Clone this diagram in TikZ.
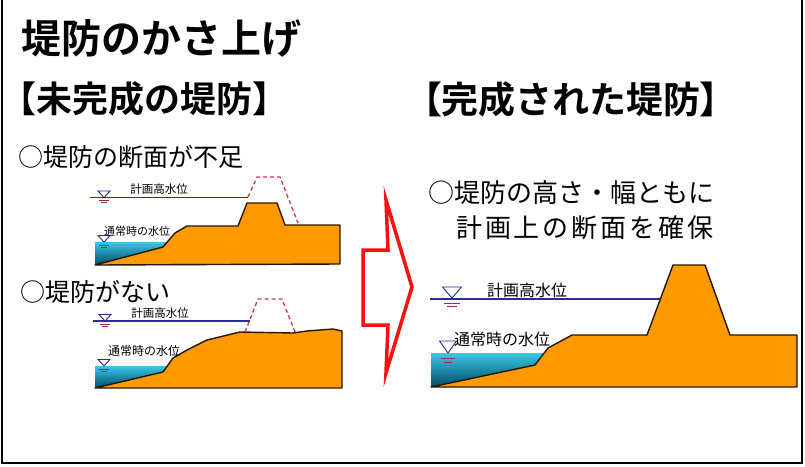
\documentclass[tikz,border=0pt]{standalone}
\usepackage{fontspec}
\setmainfont{Noto Sans CJK JP}
\newfontfamily\jpbold{Noto Sans CJK JP Bold}
\newfontfamily\jpboldp[RawFeature=+palt]{Noto Sans CJK JP Bold}
\definecolor{orng}{HTML}{FF9900}
\definecolor{navy}{HTML}{2B2B99}
\definecolor{dred}{HTML}{C8384F}
\definecolor{wtop}{HTML}{3CC8E6}
\definecolor{wbot}{HTML}{004A66}
\definecolor{arrred}{HTML}{FF1010}
\tikzset{
  fsz/.style={font=\fontsize{#1}{#1}\selectfont},
  txt/.style={inner sep=0pt, text=black},
  bank/.style={fill=orng, draw=black!85!orng, line width=1.4pt, line join=round},
  water/.style={top color=wtop, bottom color=wbot},
  hwl/.style={navy, line width=1.3pt},
  plan/.style={dred, line width=1.3pt, dash pattern=on 4pt off 3pt},
  wsym/.pic={
    \draw[navy, line width=0.9pt] (-1,-1) -- (1,-1) -- (0,0) -- cycle;
    \draw[dred!80!black, line width=0.7pt] (-0.8,0.45) -- (0.8,0.45) (-0.5,0.8) -- (0.5,0.8);
  }
}
\begin{document}
\begin{tikzpicture}[x=1pt,y=-1pt]
\useasboundingbox (0,0) rectangle (805,466);
\fill[white] (0,0) rectangle (805,466);

% ---- titles
\node[txt, fsz=40, anchor=west] (title) at (21,38) {\jpbold 堤防のかさ上げ};
\node[txt, fsz=36, anchor=west] (lab1) at (0.5,99) {\jpbold 【未完成の堤防】};
\node[txt, fsz=37, anchor=west] (lab2) at (423,99) {\jpboldp 【\jpbold 完成された堤防\jpboldp 】};

% ---- left diagram 1
\node[txt, fsz=25, anchor=west] (h1) at (18,157) {○堤防の断面が不足};
\fill[water] (95,242) -- (167,242) -- (163,247) -- (95,265) -- cycle;
\path[bank] (95,265) -- (163,247) -- (175,233) -- (187,226) -- (238,226) -- (247,203) -- (277,203) -- (285,225) -- (340,225) -- (340,264) -- cycle;
\draw[hwl] (90,197.5) -- (248,197.5);
\draw[plan] (248,197) -- (257,177) -- (280,177) -- (298,223);
\pic[xscale=6, yscale=6.5] at (104,197.5) {wsym};
\pic[xscale=6, yscale=6.5] at (104,242) {wsym};
\node[txt, fsz=11.5] (k1) at (159,189) {計画高水位};
\node[txt, fsz=11] (n1) at (137,231) {通常時の水位};

% ---- left diagram 2
\node[txt, fsz=25, anchor=west] (h2) at (20,292) {○堤防がない};
\fill[water] (95,366) -- (167.3,366) -- (163,372) -- (95,388) -- cycle;
\path[bank] (95,388) -- (163,372) -- (173,358) -- (187,350) -- (207,340) -- (240,332) -- (293,333) -- (307,331) -- (333,329) -- (342,331) -- (342,388) -- cycle;
\draw[hwl] (93,321) -- (250,321);
\draw[plan] (245,332) -- (258,299) -- (282,299) -- (295,332);
\pic[xscale=6, yscale=6.5] at (105,321) {wsym};
\pic[xscale=6, yscale=6.5] at (104,366) {wsym};
\node[txt, fsz=11.5] (k2) at (160,313) {計画高水位};
\node[txt, fsz=12] (n2) at (144,351) {通常時の水位};

% ---- arrow
\draw[arrred, line width=3.5pt, line join=miter] (363,250) -- (388,250) -- (386,200) -- (412,287) -- (386,373) -- (388,325) -- (363,325) -- cycle;

% ---- right diagram
\node[txt, fsz=26, anchor=west] (r1) at (428,193) {○堤防の高さ・幅ともに};
\node[txt, fsz=26, anchor=west] (r2) at (456,228) {\addfontfeature{LetterSpace=11}計画上の断面を確保};
\fill[water] (431,353) -- (544,353) -- (535,365) -- (431,387) -- cycle;
\path[bank] (431,387) -- (535,365) -- (548,348) -- (572,335) -- (647,335) -- (673,265) -- (705,265) -- (730,335) -- (797,335) -- (797,387) -- cycle;
\draw[hwl] (430,299) -- (660,299);
\pic[xscale=9.5, yscale=11] at (452,298) {wsym};
\pic[xscale=8.5, yscale=12] at (448,353) {wsym};
\node[txt, fsz=16] (k3) at (527,290) {計画高水位};
\node[txt, fsz=16] (n3) at (502,339) {通常時の水位};

% ---- frame
\draw[line width=2.5pt] (2,0) -- (2,463) -- (802,463) -- (802,0);
\end{tikzpicture}
\end{document}
